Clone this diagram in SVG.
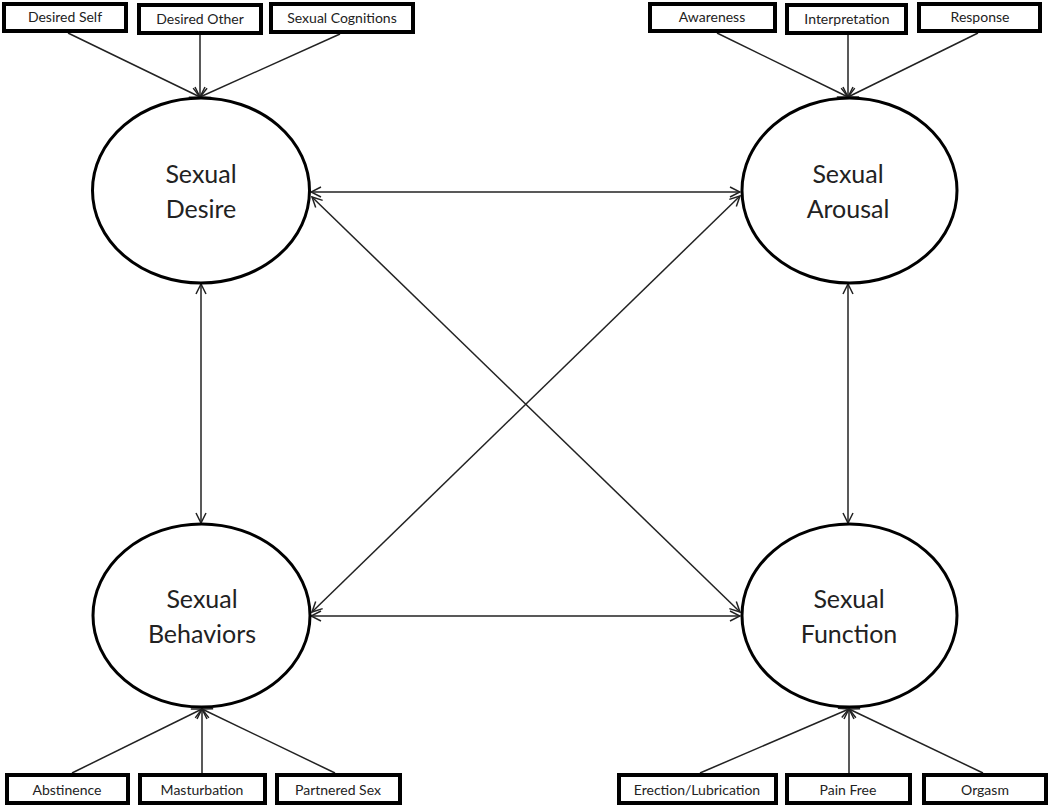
<svg xmlns="http://www.w3.org/2000/svg" width="1050" height="807" viewBox="0 0 1050 807">
<style>
.box{fill:#fff;stroke:#000;stroke-width:4}
.lat{fill:#fff;stroke:#000;stroke-width:3}
.bl{font-family:Lato,"Open Sans",sans-serif;font-size:14px;fill:#222;text-anchor:middle}
.el{font-family:Lato,"Open Sans",sans-serif;font-size:25px;fill:#222;text-anchor:middle}
.c{stroke:#222;stroke-width:1.5;fill:none}
.ce{marker-end:url(#ah)}
.cb{marker-end:url(#ah);marker-start:url(#as)}
</style>
<defs>
<marker id="ah" viewBox="0 0 12 12" refX="11" refY="6" markerWidth="12" markerHeight="12" markerUnits="userSpaceOnUse" orient="auto">
<path d="M1,1 L11,6 L1,11" fill="none" stroke="#222" stroke-width="1.5"/>
</marker>
<marker id="as" viewBox="0 0 12 12" refX="1" refY="6" markerWidth="12" markerHeight="12" markerUnits="userSpaceOnUse" orient="auto">
<path d="M11,1 L1,6 L11,11" fill="none" stroke="#222" stroke-width="1.5"/>
</marker>
</defs>
<g id="connectors">
<line class="c ce" x1="68" y1="33" x2="200" y2="97"/>
<line class="c ce" x1="200" y1="35" x2="200" y2="97"/>
<line class="c ce" x1="340" y1="34" x2="200" y2="97"/>
<line class="c ce" x1="717" y1="33" x2="848" y2="97"/>
<line class="c ce" x1="848" y1="35" x2="848" y2="97"/>
<line class="c ce" x1="978" y1="33" x2="848" y2="97"/>
<line class="c ce" x1="72" y1="773" x2="202" y2="709"/>
<line class="c ce" x1="202" y1="773" x2="202" y2="709"/>
<line class="c ce" x1="335" y1="773" x2="202" y2="709"/>
<line class="c ce" x1="700" y1="773" x2="849" y2="709"/>
<line class="c ce" x1="849" y1="773" x2="849" y2="709"/>
<line class="c ce" x1="983" y1="773" x2="849" y2="709"/>
<line class="c cb" x1="311" y1="192" x2="740" y2="192"/>
<line class="c cb" x1="311" y1="616" x2="740" y2="616"/>
<line class="c cb" x1="201" y1="284" x2="201" y2="523"/>
<line class="c cb" x1="848" y1="284" x2="848" y2="523"/>
<line class="c cb" x1="312" y1="197" x2="740" y2="612"/>
<line class="c cb" x1="740" y1="196" x2="312" y2="612"/>
</g>
<g id="n-desire"><ellipse class="lat" cx="201" cy="190.5" rx="108.5" ry="92.5"/><text class="el" x="201" y="183">Sexual</text><text class="el" x="201" y="218">Desire</text></g>
<g id="n-arousal"><ellipse class="lat" cx="849.5" cy="190.5" rx="107.5" ry="92.5"/><text class="el" x="848" y="183">Sexual</text><text class="el" x="848" y="218">Arousal</text></g>
<g id="n-behaviors"><ellipse class="lat" cx="201.5" cy="615.5" rx="108.5" ry="91.5"/><text class="el" x="202" y="608">Sexual</text><text class="el" x="202" y="643">Behaviors</text></g>
<g id="n-function"><ellipse class="lat" cx="849.5" cy="615.5" rx="107.5" ry="91.5"/><text class="el" x="849" y="608">Sexual</text><text class="el" x="849" y="643">Function</text></g>
<g id="b-desired-self"><rect class="box" x="4" y="4" width="122" height="27"/><text class="bl" x="65" y="22">Desired Self</text></g>
<g id="b-desired-other"><rect class="box" x="139" y="5" width="122" height="28"/><text class="bl" x="200" y="24">Desired Other</text></g>
<g id="b-sexual-cognitions"><rect class="box" x="271" y="4" width="142" height="28"/><text class="bl" x="342" y="23">Sexual Cognitions</text></g>
<g id="b-awareness"><rect class="box" x="650" y="4" width="125" height="27"/><text class="bl" x="712" y="22">Awareness</text></g>
<g id="b-interpretation"><rect class="box" x="787" y="5" width="119" height="28"/><text class="bl" x="847" y="24">Interpretation</text></g>
<g id="b-response"><rect class="box" x="919" y="4" width="121" height="27"/><text class="bl" x="980" y="22">Response</text></g>
<g id="b-abstinence"><rect class="box" x="7" y="775" width="121" height="28"/><text class="bl" x="67" y="795">Abstinence</text></g>
<g id="b-masturbation"><rect class="box" x="140" y="775" width="125" height="28"/><text class="bl" x="202" y="795">Masturbation</text></g>
<g id="b-partnered-sex"><rect class="box" x="277" y="775" width="123" height="28"/><text class="bl" x="338" y="795">Partnered Sex</text></g>
<g id="b-erection"><rect class="box" x="619" y="775" width="157" height="28"/><text class="bl" x="697" y="795">Erection/Lubrication</text></g>
<g id="b-pain-free"><rect class="box" x="787" y="775" width="123" height="28"/><text class="bl" x="848" y="795">Pain Free</text></g>
<g id="b-orgasm"><rect class="box" x="924" y="775" width="122" height="28"/><text class="bl" x="985" y="795">Orgasm</text></g>
</svg>
